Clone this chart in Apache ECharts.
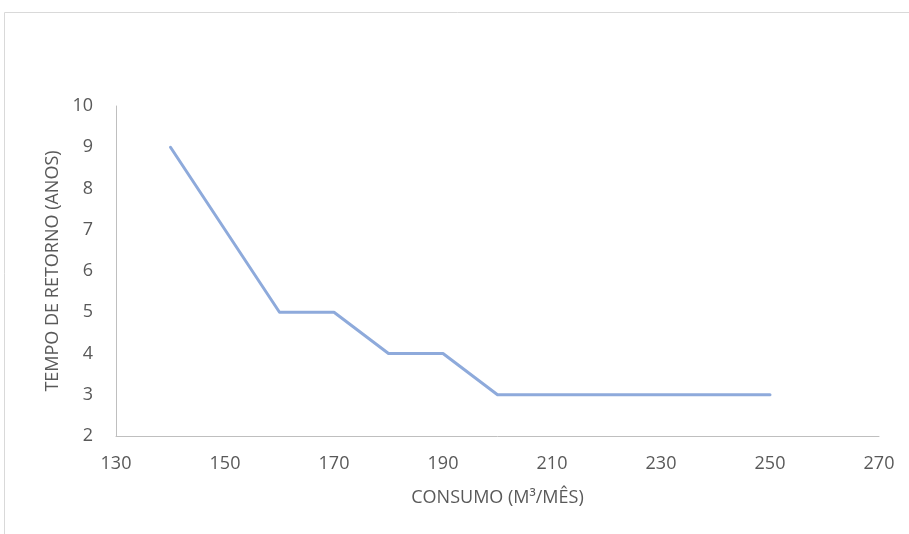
<!DOCTYPE html>
<html><head><meta charset="utf-8">
<script src="https://cdn.jsdelivr.net/npm/echarts@6/dist/echarts.min.js"></script>
<style>html,body{margin:0;padding:0;background:#fff}#c{width:909px;height:534px}</style>
</head><body><div id="c"></div>
<script>
const consumo = [140, 160, 170, 180, 190, 200, 210, 220, 230, 240, 250];
const tempo = [9, 5, 5, 4, 4, 3, 3, 3, 3, 3, 3];
const xTicks = [130, 150, 170, 190, 210, 230, 250, 270];
const yTicks = [2, 3, 4, 5, 6, 7, 8, 9, 10];
const xName = 'CONSUMO (M³/MÊS)';
const yName = 'TEMPO DE RETORNO (ANOS)';

const chart = echarts.init(document.getElementById('c'), null, {renderer: 'canvas'});
const font = 'Open Sans';
chart.setOption({
  animation: false,
  backgroundColor: '#fff',
  graphic: [{type: 'rect', shape: {x: 4.5, y: 12.5, width: 1000, height: 1000}, style: {fill: 'none', stroke: '#d9d9d9', lineWidth: 1}}],
  grid: {left: 116, right: 30, top: 106, bottom: 98},
  xAxis: {
    type: 'value', min: xTicks[0], max: xTicks[xTicks.length - 1], interval: 20,
    name: xName, nameLocation: 'middle', nameGap: 53,
    nameTextStyle: {color: '#595959', fontSize: 18, fontFamily: font},
    axisLine: {show: true, lineStyle: {color: '#bfbfbf', width: 1}},
    axisTick: {show: false}, splitLine: {show: false},
    axisLabel: {color: '#595959', fontSize: 18, fontFamily: font, margin: 19}
  },
  yAxis: {
    type: 'value', min: yTicks[0], max: yTicks[yTicks.length - 1], interval: 1,
    name: yName, nameLocation: 'middle', nameGap: 52,
    nameTextStyle: {color: '#595959', fontSize: 18, fontFamily: font},
    axisLine: {show: true, lineStyle: {color: '#bfbfbf', width: 1}},
    axisTick: {show: false}, splitLine: {show: false},
    axisLabel: {color: '#595959', fontSize: 18, fontFamily: font, margin: 23}
  },
  series: [{
    type: 'line', data: consumo.map((x, i) => [x, tempo[i]]),
    showSymbol: false, symbol: 'none',
    lineStyle: {color: '#8eaadb', width: 3, cap: 'round', join: 'round'}
  }]
});
</script></body></html>
